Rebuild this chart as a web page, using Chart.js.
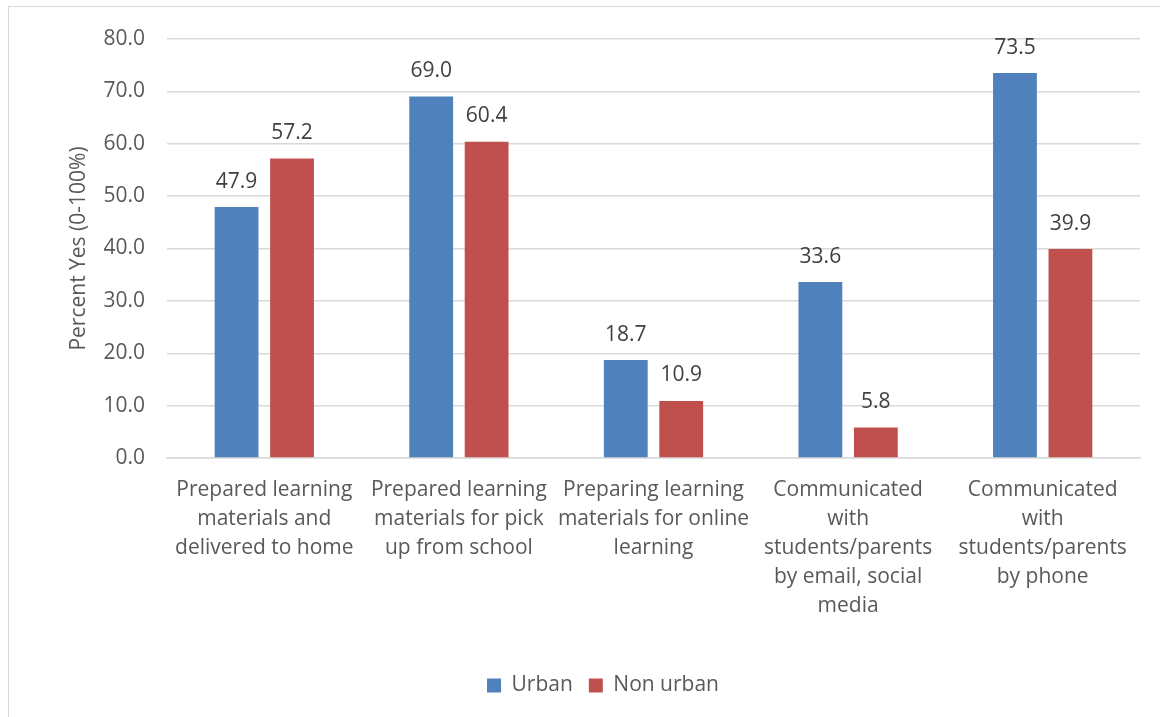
<!DOCTYPE html>
<html>
<head>
<meta charset="utf-8">
<script src="https://cdn.jsdelivr.net/npm/chart.js@4.4.1/dist/chart.umd.min.js"></script>
<style>
  html, body { margin: 0; padding: 0; background: #ffffff; overflow: hidden; }
  #wrap { position: relative; width: 1160px; height: 717px; overflow: hidden; }
  #frame { position: absolute; left: 8px; top: 6px; width: 1300px; height: 900px; border: 1.5px solid #d9d9d9; box-sizing: border-box; }
  canvas { position: absolute; left: 0; top: 0; }
</style>
</head>
<body>
<div id="wrap">
  <div id="frame"></div>
  <canvas id="c" width="1160" height="717"></canvas>
</div>
<script>
const categories = [
  ["Prepared learning", "materials and", "delivered to home"],
  ["Prepared learning", "materials for pick", "up from school"],
  ["Preparing learning", "materials for online", "learning"],
  ["Communicated", "with", "students/parents", "by email, social", "media"],
  ["Communicated", "with", "students/parents", "by phone"]
];
const urbanValues = [47.9, 69.0, 18.7, 33.6, 73.5];
const nonUrbanValues = [57.2, 60.4, 10.9, 5.8, 39.9];
const seriesNames = ["Urban", "Non urban"];
const yAxisTitle = "Percent Yes (0-100%)";

const FONT = "'Open Sans', 'Noto Sans', sans-serif";
const TEXT = "#595959";

const valueLabels = {
  id: 'valueLabels',
  afterDatasetsDraw(chart) {
    const ctx = chart.ctx;
    ctx.save();
    ctx.font = "21px " + FONT;
    ctx.fillStyle = "#404040";
    ctx.textAlign = "center";
    ctx.textBaseline = "bottom";
    chart.data.datasets.forEach((ds, i) => {
      const meta = chart.getDatasetMeta(i);
      meta.data.forEach((bar, j) => {
        ctx.fillText(ds.data[j].toFixed(1), bar.x, bar.y - 15);
      });
    });
    ctx.restore();
  }
};

new Chart(document.getElementById('c'), {
  type: 'bar',
  data: {
    labels: categories,
    datasets: [
      { label: seriesNames[0], data: urbanValues, backgroundColor: '#4F81BD', borderWidth: 0,
        categoryPercentage: 0.57, barPercentage: 0.79 },
      { label: seriesNames[1], data: nonUrbanValues, backgroundColor: '#C0504D', borderWidth: 0,
        categoryPercentage: 0.57, barPercentage: 0.79 }
    ]
  },
  options: {
    responsive: false,
    animation: false,
    devicePixelRatio: 1,
    layout: { padding: { left: 66, right: 20, top: 39, bottom: 11 } },
    plugins: {
      legend: {
        position: 'bottom',
        labels: {
          boxWidth: 14, boxHeight: 14, padding: 16,
          color: TEXT, font: { family: FONT, size: 21 }
        }
      },
      tooltip: { enabled: false }
    },
    scales: {
      x: {
        grid: { display: false, drawTicks: false },
        border: { display: true, color: '#d9d9d9', width: 1.5 },
        ticks: {
          color: TEXT, font: { family: FONT, size: 21, lineHeight: 1.38 },
          maxRotation: 0, autoSkip: false, padding: 18
        },
        afterFit(scale) { scale.height = 201; }
      },
      y: {
        min: 0, max: 80,
        ticks: {
          stepSize: 10, color: TEXT, padding: 22,
          font: { family: FONT, size: 21 },
          callback: v => v.toFixed(1)
        },
        grid: { color: '#d9d9d9', lineWidth: 1.5, drawTicks: false },
        border: { display: false },
        title: {
          display: true, text: yAxisTitle, color: TEXT,
          font: { family: FONT, size: 21 }, padding: { top: 0, bottom: 10 }
        },
        afterFit(scale) { scale.width = 101; }
      }
    }
  },
  plugins: [valueLabels]
});
</script>
</body>
</html>
